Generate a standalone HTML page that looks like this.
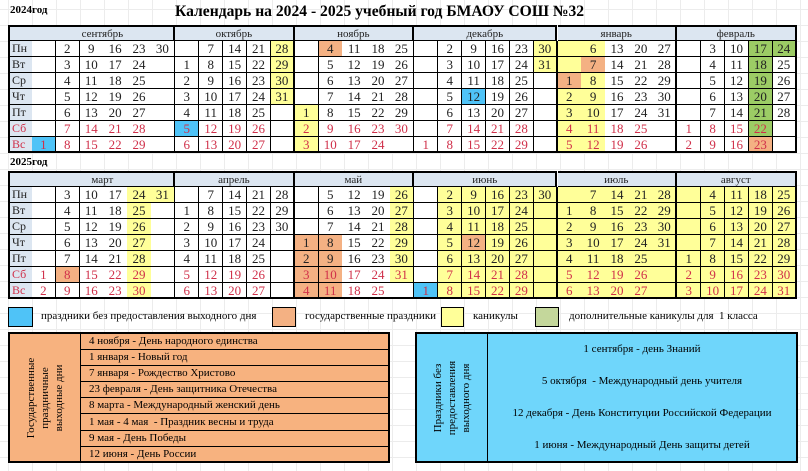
<!DOCTYPE html>
<html><head><meta charset="utf-8">
<style>
body{margin:0;width:808px;height:471px;overflow:hidden;background:#fff;position:relative;font-family:"Liberation Serif","DejaVu Serif",serif;
background-image:linear-gradient(#ececec 1px,transparent 1px),linear-gradient(90deg,#ececec 1px,transparent 1px);background-size:24px 16px;background-position:8px 9px;}
.c{position:absolute;box-sizing:border-box;border-right:1px solid #000;border-bottom:1px solid #000;text-align:center;font-size:13px;line-height:15px;color:#222}
.abs{position:absolute}
.box{position:absolute;box-sizing:border-box;border:1px solid #000}
</style></head><body>
<div class="abs" style="left:10px;top:4px;font-size:11px;font-weight:bold">2024год</div>
<div class="abs" style="left:175px;top:3px;font-size:15.6px;font-weight:bold">Календарь на 2024 - 2025 учебный год БМАОУ СОШ №32</div>
<div class="abs" style="left:10px;top:156px;font-size:11px;font-weight:bold">2025год</div>
<div id="root"></div>
<div class="box" style="left:8px;top:307px;width:25px;height:20px;background:#4fc3f7"></div>
<div class="abs" style="left:41px;top:310px;font-size:11px">праздники без предоставления выходного дня</div>
<div class="box" style="left:272px;top:307px;width:24px;height:20px;background:#f4b183"></div>
<div class="abs" style="left:305px;top:310px;font-size:11px">государственные праздники</div>
<div class="box" style="left:441px;top:307px;width:23px;height:20px;background:#ffff99"></div>
<div class="abs" style="left:473px;top:310px;font-size:11px">каникулы</div>
<div class="box" style="left:535px;top:307px;width:24px;height:20px;background:#c4d79b"></div>
<div class="abs" style="left:569px;top:310px;font-size:11px">дополнительные каникулы для&nbsp; 1 класса</div>

<div class="box" style="left:8px;top:332px;width:382px;height:131px;border:2px solid #000;background:#f7b27f"></div>
<div class="abs" style="left:80px;top:333px;width:1px;height:129px;background:#000"></div>
<div class="abs" style="left:10px;top:334px;width:70px;height:127px;display:flex;align-items:center;justify-content:center">
<div style="transform:rotate(-90deg);font-size:11px;text-align:center;line-height:14px;white-space:nowrap">Государственные<br>праздничные<br>выходные дни</div></div>
<div id="hol"></div>
<div class="box" style="left:415px;top:332px;width:383px;height:131px;border:2px solid #000;background:#6fd6fb"></div>
<div class="abs" style="left:487px;top:333px;width:1px;height:129px;background:#000"></div>
<div class="abs" style="left:417px;top:334px;width:70px;height:127px;display:flex;align-items:center;justify-content:center">
<div style="transform:rotate(-90deg);font-size:11px;text-align:center;line-height:14px;white-space:nowrap">Праздники без<br>предоставления<br>выходного дня</div></div>
<div class="abs" style="left:488px;top:343px;width:308px;text-align:center;font-size:11px">1 сентября - день Знаний</div>
<div class="abs" style="left:488px;top:375px;width:308px;text-align:center;font-size:11px">5 октября&nbsp; - Международный день учителя</div>
<div class="abs" style="left:488px;top:407px;width:308px;text-align:center;font-size:11px">12 декабря - День Конституции Российской Федерации</div>
<div class="abs" style="left:488px;top:439px;width:308px;text-align:center;font-size:11px">1 июня - Международный День защиты детей</div>
<script>
var root=document.getElementById('root');
var W=23.9,X0=31.7;
var days=['Пн','Вт','Ср','Чт','Пт','Сб','Вс'];
var COL={y:'#ffff99',o:'#f4b183',b:'#4fc3f7',g:'#9ccc65'};
function cell(x,y,w,h,txt,bg,red,extra){var d=document.createElement('div');d.className='c';
d.style.cssText+='left:'+x+'px;top:'+y+'px;width:'+w+'px;height:'+h+'px;'+(bg?'background:'+bg+';':'')+(red?'color:#d0304a;':'')+(extra||'');
d.textContent=txt;root.appendChild(d);}
function build(top,months){
 var H=16;
 cell(8,top,X0-8+1,H,'', '#dce6f1',false,'border-left:2px solid #000;border-top:2px solid #000');
 for(var r=0;r<7;r++)cell(8,top+H*(r+1),X0-8+1,H,days[r],'#dce6f1',r>=5,'border-left:2px solid #000;text-align:left;padding-left:2px;font-size:12px;'+(r==6?'border-bottom:2px solid #000':''));
 var c=0;
 months.forEach(function(m){
  var n=m.rows[0].length,x=X0+c*W;
  cell(x,top,n*W,H,m.name,'#dce6f1',false,'border-top:2px solid #000;border-right:2px solid #000;font-size:11px;');
  for(var r=0;r<7;r++)for(var k=0;k<n;k++){
   var t=m.rows[r][k]||'',mm=t.match(/^(\d*)([yobg]?)$/);var num=mm[1],col=mm[2];
   var bg=col?COL[col]:(m.fill&&m.fill(r,k)?COL.y:'#fff');
   cell(x+k*W,top+H*(r+1),W+0.5,H,num,bg,r>=5,(k==n-1?'border-right:2px solid #000;':'')+(r==6?'border-bottom:2px solid #000;':''));
  }
  c+=n;
 });
}
function p(s){return s.split('|').map(function(r){return r.split(',')});}
build(25,[
{name:'сентябрь',rows:p(',2,9,16,23,30|,3,10,17,24,|,4,11,18,25,|,5,12,19,26,|,6,13,20,27,|,7,14,21,28,|1b,8,15,22,29,')},
{name:'октябрь',rows:p(',7,14,21,28y|1,8,15,22,29y|2,9,16,23,30y|3,10,17,24,31y|4,11,18,25,|5b,12,19,26,|6,13,20,27,')},
{name:'ноябрь',rows:p(',4o,11,18,25|,5,12,19,26|,6,13,20,27|,7,14,21,28|1y,8,15,22,29|2y,9,16,23,30|3y,10,17,24,')},
{name:'декабрь',rows:p(',2,9,16,23,30y|,3,10,17,24,31y|,4,11,18,25,|,5,12b,19,26,|,6,13,20,27,|,7,14,21,28,|1,8,15,22,29,')},
{name:'январь',rows:p('y,6y,13,20,27|y,7o,14,21,28|1o,8y,15,22,29|2y,9y,16,23,30|3y,10y,17,24,31|4y,11y,18,25,|5y,12y,19,26,')},
{name:'февраль',rows:p(',3,10,17g,24g|,4,11,18g,25|,5,12,19g,26|,6,13,20g,27|,7,14,21g,28|1,8,15,22g,|2,9,16,23o,')}
]);
build(171,[
{name:'март',rows:p(',3,10,17,24y,31y|,4,11,18,25y,|,5,12,19,26y,|,6,13,20,27y,|,7,14,21,28y,|1,8o,15,22,29y,|2,9,16,23,30y,')},
{name:'апрель',rows:p(',7,14,21,28|1,8,15,22,29|2,9,16,23,30|3,10,17,24,|4,11,18,25,|5,12,19,26,|6,13,20,27,')},
{name:'май',rows:p(',5,12,19,26y|,6,13,20,27y|,7,14,21,28y|1o,8o,15,22,29y|2o,9o,16,23,30y|3o,10o,17,24,31y|4o,11o,18,25,')},
{name:'июнь',fill:function(r,k){return k>0},rows:p(',2,9,16,23,30|,3,10,17,24,|,4,11,18,25,|,5,12o,19,26,|,6,13,20,27,|,7,14,21,28,|1b,8,15,22,29,')},
{name:'июль',fill:function(){return true},rows:p(',7,14,21,28|1,8,15,22,29|2,9,16,23,30|3,10,17,24,31|4,11,18,25,|5,12,19,26,|6,13,20,27,')},
{name:'август',fill:function(){return true},rows:p(',4,11,18,25|,5,12,19,26|,6,13,20,27|,7,14,21,28|1,8,15,22,29|2,9,16,23,30|3,10,17,24,31')}
]);
var hol=['4 ноября - День народного единства','1 января - Новый год','7 января - Рождество Христово','23 февраля - День защитника Отечества','8 марта - Международный женский день','1 мая - 4 мая&nbsp; - Праздник весны и труда','9 мая - День Победы','12 июня - День России'];
var h=document.getElementById('hol');
hol.forEach(function(t,i){var d=document.createElement('div');d.className='abs';
d.style.cssText='left:81px;top:'+(334+i*16.1)+'px;width:307px;height:16px;box-sizing:border-box;'+(i<7?'border-bottom:1px solid #000;':'')+'font-size:11px;line-height:15px;padding-left:8px';
d.innerHTML=t;h.appendChild(d);});
</script>
</body></html>
